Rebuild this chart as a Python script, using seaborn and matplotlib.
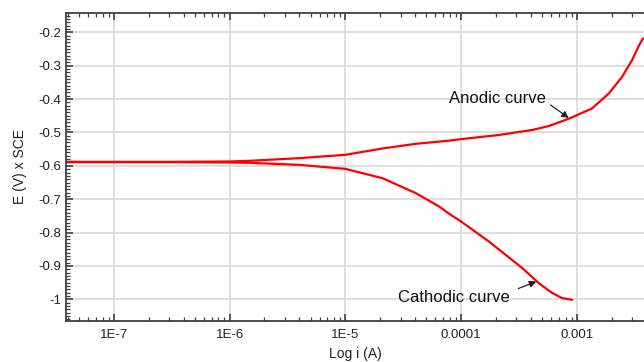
import numpy as np
import pandas as pd
import seaborn as sns
import matplotlib
matplotlib.use("Agg")
import matplotlib.pyplot as plt
from matplotlib.ticker import FixedLocator, LogLocator, MultipleLocator, NullFormatter

# ---- data ----
anodic_i = [3.8e-8, 1e-7, 3.16e-7, 1e-6, 1.48e-6, 3.98e-6, 1e-5, 2.09e-5, 4.07e-5,
            7.9e-5, 1e-4, 2.13e-4, 4.12e-4, 5.75e-4, 8.7e-4, 1.35e-3, 1.89e-3,
            2.46e-3, 3.0e-3, 3.4e-3, 3.72e-3]
anodic_E = [-0.588, -0.588, -0.588, -0.587, -0.585, -0.577, -0.567, -0.548, -0.534,
            -0.5245, -0.520, -0.5075, -0.4925, -0.4805, -0.4576, -0.428, -0.383,
            -0.333, -0.283, -0.243, -0.218]

cathodic_i = [3.8e-8, 1e-7, 3.16e-7, 1e-6, 1.48e-6, 3.98e-6, 1e-5, 2.09e-5, 4.07e-5,
              6.46e-5, 7.9e-5, 1e-4, 1.74e-4, 3.39e-4, 4.7e-4, 6.12e-4, 7.4e-4, 9.1e-4]
cathodic_E = [-0.589, -0.589, -0.589, -0.590, -0.591, -0.597, -0.609, -0.637, -0.682,
              -0.722, -0.744, -0.767, -0.827, -0.907, -0.952, -0.981, -0.996, -1.0015]

x_ticks = [1e-7, 1e-6, 1e-5, 1e-4, 1e-3]
x_tick_labels = ["1E-7", "1E-6", "1E-5", "0.0001", "0.001"]
y_ticks = [-0.2, -0.3, -0.4, -0.5, -0.6, -0.7, -0.8, -0.9, -1.0]
y_tick_labels = ["-0.2", "-0.3", "-0.4", "-0.5", "-0.6", "-0.7", "-0.8", "-0.9", "-1"]

anodic = pd.DataFrame({"i": anodic_i, "E": anodic_E})
cathodic = pd.DataFrame({"i": cathodic_i, "E": cathodic_E})

# ---- styling ----
sns.set_theme(style="ticks")
plt.rcParams["font.family"] = ["Liberation Sans", "DejaVu Sans"]

fig = plt.figure(figsize=(6.44, 3.62), dpi=100)
ax = fig.add_axes([66 / 644, 1 - 321 / 362, 1 - 66 / 644, (321 - 13) / 362])

sns.lineplot(data=anodic, x="i", y="E", ax=ax, color="#ff0000", lw=1.6, sort=False)
sns.lineplot(data=cathodic, x="i", y="E", ax=ax, color="#ff0000", lw=1.6, sort=False)

ax.set_xscale("log")
ax.set_xlim(3.86e-8, 3.8e-3)
ax.set_ylim(-1.065, -0.142)

ax.xaxis.set_major_locator(FixedLocator(x_ticks))
ax.set_xticklabels(x_tick_labels)
ax.xaxis.set_minor_locator(LogLocator(base=10, subs=np.arange(2, 10)))
ax.xaxis.set_minor_formatter(NullFormatter())
ax.yaxis.set_major_locator(FixedLocator(y_ticks))
ax.set_yticklabels(y_tick_labels)
ax.yaxis.set_minor_locator(MultipleLocator(0.01))

ax.grid(True, which="major", color="#dcdcdc", lw=1.3)
ax.set_axisbelow(True)

for side in ["left", "top", "bottom"]:
    ax.spines[side].set_color("#404040")
    ax.spines[side].set_linewidth(1.3)
ax.spines["right"].set_visible(False)

ax.tick_params(axis="both", which="both", direction="in", color="#404040",
               labelsize=9.5, labelcolor="#222222")
ax.tick_params(axis="x", which="both", top=True, bottom=True)
ax.tick_params(axis="y", which="both", left=True, right=False)
ax.tick_params(which="major", length=5, width=1.2)
ax.tick_params(which="minor", length=3, width=0.9)
ax.tick_params(axis="x", which="major", pad=6)

ax.set_xlabel("Log i (A)", fontsize=10, color="#222222", labelpad=4)
ax.set_ylabel("E (V) x SCE", fontsize=10, color="#222222", labelpad=8)

arrow = dict(arrowstyle="-|>", color="#222222", lw=0.9,
             shrinkA=0, shrinkB=0, mutation_scale=10)
ax.text(5.41e-4, -0.3997, "Anodic curve", fontsize=12, ha="right", va="center",
        color="#111111")
ax.annotate("", xy=(8.5e-4, -0.4566), xytext=(5.93e-4, -0.4177), arrowprops=arrow)
ax.text(2.64e-4, -0.9955, "Cathodic curve", fontsize=12, ha="right", va="center",
        color="#111111")
ax.annotate("", xy=(4.46e-4, -0.9467), xytext=(3.12e-4, -0.9677), arrowprops=arrow)

fig.savefig("out.png", dpi=100)
